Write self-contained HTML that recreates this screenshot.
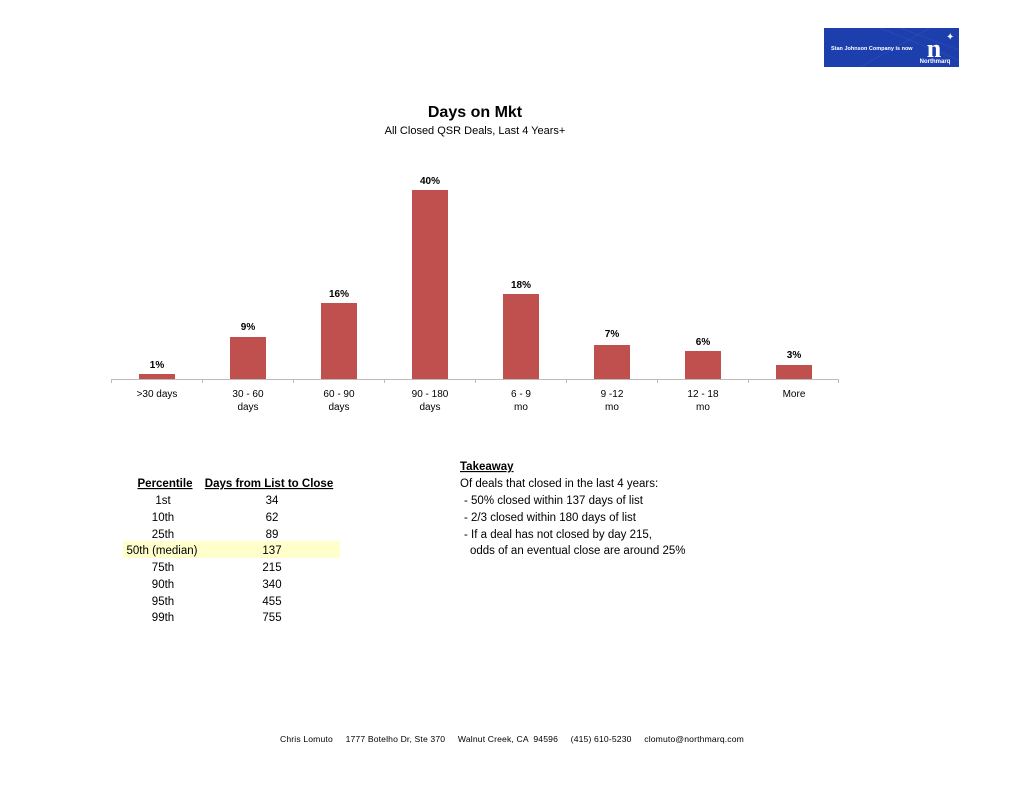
<!DOCTYPE html>
<html><head><meta charset="utf-8"><style>
html,body{margin:0;padding:0;background:#fff;}
svg{display:block;font-family:"Liberation Sans",sans-serif;}
</style></head><body>
<svg width="1024" height="791" viewBox="0 0 1024 791" xmlns="http://www.w3.org/2000/svg">
<rect width="1024" height="791" fill="#fff"/>
<rect x="824" y="28" width="135" height="39" fill="#1d3fae"/>
<path d="M880 28 L959 60 M900 28 L959 50 M860 67 L930 28" stroke="#3a5cc4" stroke-width="0.6" opacity="0.6"/>
<text x="831" y="50" font-size="5.5" fill="#fff" font-weight="bold">Stan Johnson Company is now</text>
<text x="934" y="57" font-size="26" fill="#fff" font-family="Liberation Serif,serif" font-weight="bold" text-anchor="middle">n</text>
<text x="946" y="40" font-size="10" fill="#fff">✦</text>
<text x="935" y="63" font-size="6" fill="#fff" text-anchor="middle" font-weight="bold">Northmarq</text>
<text x="475" y="117" font-size="16" font-weight="bold" text-anchor="middle" fill="#000">Days on Mkt</text>
<text x="475" y="134" font-size="11" text-anchor="middle" fill="#000">All Closed QSR Deals, Last 4 Years+</text>
<g fill="#c0504d">
<rect x="139" y="374" width="36" height="5"/>
<rect x="230" y="337" width="36" height="42"/>
<rect x="321" y="303" width="36" height="76"/>
<rect x="412" y="190" width="36" height="189"/>
<rect x="503" y="294" width="36" height="85"/>
<rect x="594" y="345" width="36" height="34"/>
<rect x="685" y="351" width="36" height="28"/>
<rect x="776" y="365" width="36" height="14"/>
</g>
<g stroke="#bbb" stroke-width="1">
<line x1="111" y1="379.5" x2="839" y2="379.5"/>
<line x1="111.5" y1="379" x2="111.5" y2="383"/><line x1="202.5" y1="379" x2="202.5" y2="383"/><line x1="293.5" y1="379" x2="293.5" y2="383"/><line x1="384.5" y1="379" x2="384.5" y2="383"/><line x1="475.5" y1="379" x2="475.5" y2="383"/><line x1="566.5" y1="379" x2="566.5" y2="383"/><line x1="657.5" y1="379" x2="657.5" y2="383"/><line x1="748.5" y1="379" x2="748.5" y2="383"/><line x1="838.5" y1="379" x2="838.5" y2="383"/>
</g>
<g font-size="10" font-weight="bold" text-anchor="middle" fill="#000">
<text x="157" y="368">1%</text><text x="248" y="330">9%</text><text x="339" y="297">16%</text><text x="430" y="184">40%</text>
<text x="521" y="288">18%</text><text x="612" y="337">7%</text><text x="703" y="345">6%</text><text x="794" y="358">3%</text>
</g>
<g font-size="10" text-anchor="middle" fill="#000">
<text x="157" y="397">&gt;30 days</text>
<text x="248" y="397">30 - 60</text><text x="248" y="410">days</text>
<text x="339" y="397">60 - 90</text><text x="339" y="410">days</text>
<text x="430" y="397">90 - 180</text><text x="430" y="410">days</text>
<text x="521" y="397">6 - 9</text><text x="521" y="410">mo</text>
<text x="612" y="397">9 -12</text><text x="612" y="410">mo</text>
<text x="703" y="397">12 - 18</text><text x="703" y="410">mo</text>
<text x="794" y="397">More</text>
</g>
<rect x="123" y="541" width="217" height="17" fill="#ffffcc"/>
<g font-size="11.5" fill="#000" text-anchor="middle">
<text x="165" y="487" font-weight="bold" text-decoration="underline">Percentile</text>
<text x="269" y="487" font-weight="bold" text-decoration="underline">Days from List to Close</text>
<text x="163" y="504">1st</text><text x="272" y="504">34</text>
<text x="163" y="521">10th</text><text x="272" y="521">62</text>
<text x="163" y="538">25th</text><text x="272" y="538">89</text>
<text x="162" y="554">50th (median)</text><text x="272" y="554">137</text>
<text x="163" y="571">75th</text><text x="272" y="571">215</text>
<text x="163" y="588">90th</text><text x="272" y="588">340</text>
<text x="163" y="605">95th</text><text x="272" y="605">455</text>
<text x="163" y="621">99th</text><text x="272" y="621">755</text>
</g>
<g font-size="11.5" fill="#000">
<text x="460" y="470" font-weight="bold" text-decoration="underline">Takeaway</text>
<text x="460" y="487">Of deals that closed in the last 4 years:</text>
<text x="464" y="504">- 50% closed within 137 days of list</text>
<text x="464" y="521">- 2/3 closed within 180 days of list</text>
<text x="464" y="538">- If a deal has not closed by day 215,</text>
<text x="470" y="554">odds of an eventual close are around 25%</text>
</g>
<text x="512" y="742" font-size="8.6" letter-spacing="0.15" text-anchor="middle" fill="#000" xml:space="preserve">Chris Lomuto     1777 Botelho Dr, Ste 370     Walnut Creek, CA  94596     (415) 610-5230     clomuto@northmarq.com</text>
</svg>
</body></html>
